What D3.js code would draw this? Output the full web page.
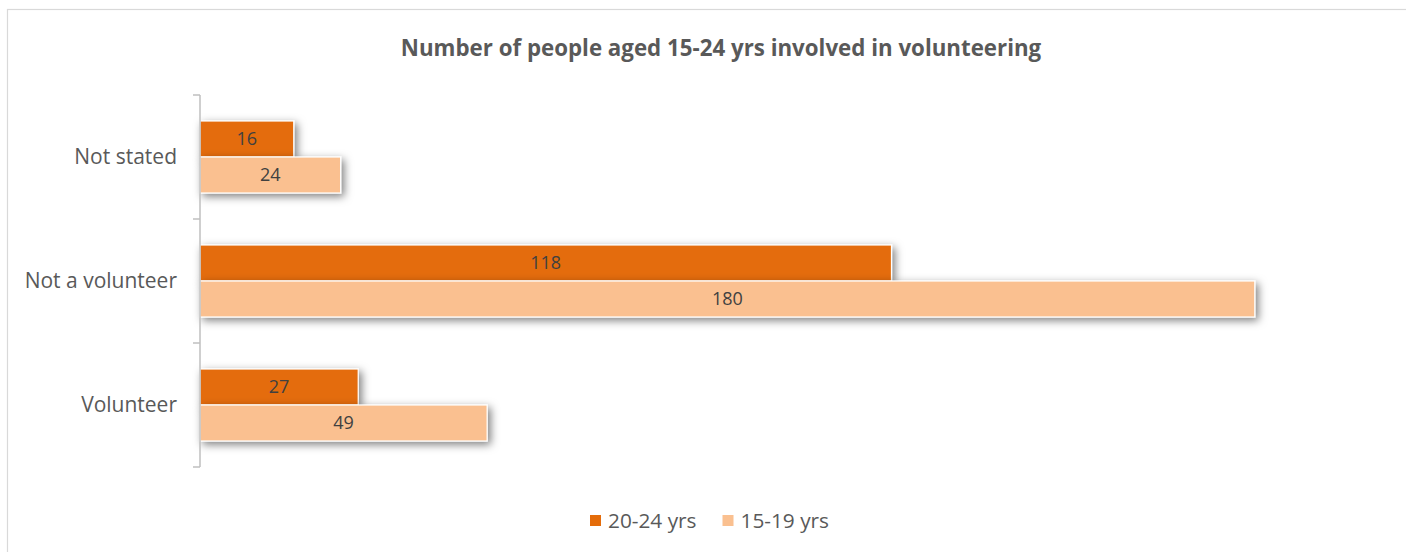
<!DOCTYPE html>
<html><head><meta charset="utf-8">
<script src="https://cdn.jsdelivr.net/npm/d3@7"></script>
<style>body{margin:0;background:#fff;overflow:hidden}svg{display:block}</style>
</head><body>
<script>
const categories = ["Not stated", "Not a volunteer", "Volunteer"];
const seriesNames = ["20-24 yrs", "15-19 yrs"];
const series2024 = [16, 118, 27];
const series1519 = [24, 180, 49];
const colors = ["#E46C0A", "#FAC090"];
const title = "Number of people aged 15-24 yrs involved in volunteering";

const W = 1406, H = 552;
const font = "'Open Sans', sans-serif";
const svg = d3.select("body").append("svg").attr("width", W).attr("height", H);

const defs = svg.append("defs");
const f = defs.append("filter").attr("id", "sh").attr("x", "-10%").attr("y", "-50%").attr("width", "130%").attr("height", "220%");
f.append("feDropShadow").attr("dx", 3).attr("dy", 3).attr("stdDeviation", 4).attr("flood-color", "#000").attr("flood-opacity", 0.5);

svg.append("rect").attr("x", 7.5).attr("y", 9.5).attr("width", 1430).attr("height", 560)
  .attr("fill", "#fff").attr("stroke", "#d9d9d9").attr("stroke-width", 1.2);

svg.append("text").attr("x", 721).attr("y", 56).attr("text-anchor", "middle")
  .attr("font-family", font).attr("font-weight", "bold").attr("font-size", 22.3).attr("fill", "#595959").text(title);

const x = d3.scaleLinear().domain([0, 200]).range([200, 1372]);
const y = d3.scaleBand().domain(categories).range([95, 467]);
const inner = d3.scaleBand().domain(seriesNames).range([0, 72]);
const barOff = (y.bandwidth() - 72) / 2;

const data = categories.map((c, i) => ({ c, vals: [series2024[i], series1519[i]] }));

const g = svg.append("g");
data.forEach(d => {
  d.vals.forEach((v, j) => {
    const yy = y(d.c) + barOff + inner(seriesNames[j]);
    g.append("rect").attr("x", x(0)).attr("y", yy).attr("width", x(v) - x(0)).attr("height", inner.bandwidth())
      .attr("fill", colors[j]).attr("stroke", "#fff").attr("stroke-width", 1.2).attr("filter", "url(#sh)");
  });
});
data.forEach(d => {
  d.vals.forEach((v, j) => {
    const yy = y(d.c) + barOff + inner(seriesNames[j]);
    g.append("text").attr("x", (x(0) + x(v)) / 2).attr("y", yy + inner.bandwidth() / 2)
      .attr("dy", "0.35em").attr("text-anchor", "middle").attr("font-family", font)
      .attr("font-size", 18).attr("fill", "#404040").text(v);
  });
});

const axis = d3.axisLeft(y).tickSize(0).tickPadding(23);
const ag = svg.append("g").attr("transform", `translate(${x(0)},0)`).call(axis);
ag.select(".domain").attr("stroke", "#bfbfbf").attr("stroke-width", 1.5);
ag.selectAll("text").attr("font-family", font).attr("font-size", 21).attr("fill", "#595959");
const bounds = categories.map(c => y(c)).concat([y.range()[1]]);
ag.selectAll(".bt").data(bounds).enter().append("line")
  .attr("x1", -7).attr("x2", 0).attr("y1", d => d).attr("y2", d => d)
  .attr("stroke", "#bfbfbf").attr("stroke-width", 1.5);
ag.select(".domain").attr("d", `M0,${y.range()[0]}V${y.range()[1]}`);

const lg = svg.append("g").attr("transform", "translate(590,521)");
let lx = 0;
seriesNames.forEach((s, i) => {
  const it = lg.append("g").attr("transform", `translate(${lx},0)`);
  it.append("rect").attr("x", 0).attr("y", -6).attr("width", 11).attr("height", 11).attr("fill", colors[i]);
  const t = it.append("text").attr("x", 18).attr("y", 0).attr("dy", "0.35em").attr("font-family", font)
    .attr("font-size", 20.8).attr("fill", "#595959").text(s);
  lx += 18 + t.node().getComputedTextLength() + 26;
});
</script>
</body></html>
